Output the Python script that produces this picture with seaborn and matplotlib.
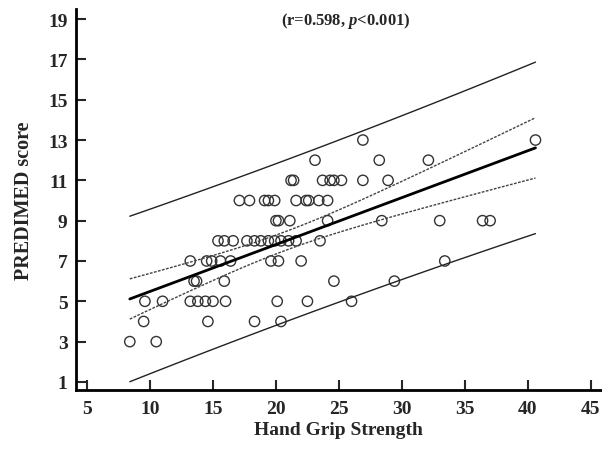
import numpy as np
import pandas as pd
import seaborn as sns
import matplotlib
matplotlib.use("Agg")
import matplotlib.pyplot as plt

# hand grip strength per PREDIMED score row
grip_13 = [26.9, 40.6]
grip_12 = [23.1, 28.2, 32.1]
grip_11 = [21.2, 21.4, 23.7, 24.3, 24.6, 25.2, 26.9, 28.9]
grip_10 = [17.1, 17.9, 19.1, 19.4, 19.9, 21.6, 22.4, 22.6, 23.4, 24.1]
grip_9 = [20.0, 20.2, 21.1, 24.1, 28.4, 33.0, 36.4, 37.0]
grip_8 = [15.4, 15.9, 16.6, 17.7, 18.3, 18.8, 19.4, 19.9, 20.4, 21.0, 21.6, 23.5]
grip_7 = [13.2, 14.5, 14.9, 15.6, 16.4, 19.6, 20.2, 22.0, 33.4]
grip_6 = [13.5, 13.7, 15.9, 24.6, 29.4]
grip_5 = [9.6, 11.0, 13.2, 13.8, 14.4, 15.0, 16.0, 20.1, 22.5, 26.0]
grip_4 = [9.5, 14.6, 18.3, 20.4]
grip_3 = [8.4, 10.5]

rows = {13: grip_13, 12: grip_12, 11: grip_11, 10: grip_10, 9: grip_9, 8: grip_8,
        7: grip_7, 6: grip_6, 5: grip_5, 4: grip_4, 3: grip_3}

df = pd.DataFrame([(g, s) for s, gs in rows.items() for g in gs], columns=["grip", "score"])

x_ticks = [5, 10, 15, 20, 25, 30, 35, 40, 45]
y_ticks = [1, 3, 5, 7, 9, 11, 13, 15, 17, 19]

sns.set_style("ticks")
plt.rcParams["font.family"] = ["Liberation Serif", "DejaVu Serif"]
plt.rcParams["font.weight"] = "bold"
plt.rcParams["mathtext.fontset"] = "custom"
plt.rcParams["mathtext.it"] = "Liberation Serif:italic:bold"
plt.rcParams["mathtext.rm"] = "Liberation Serif:bold"

fig = plt.figure(figsize=(6.02, 4.52), dpi=100)
ax = fig.add_axes([76 / 602, 61 / 452, 525 / 602, 381 / 452])

# confidence and prediction bands from a simple linear fit
x = df["grip"].values
y = df["score"].values
n = len(x)
b1, b0 = np.polyfit(x, y, 1)
resid = y - (b0 + b1 * x)
s = np.sqrt(np.sum(resid ** 2) / (n - 2))
xg = np.linspace(x.min(), x.max(), 100)
yg = b0 + b1 * xg
sxx = np.sum((x - x.mean()) ** 2)
t = 1.994
ci = t * s * np.sqrt(1 / n + (xg - x.mean()) ** 2 / sxx)
pi = t * s * np.sqrt(1 + 1 / n + (xg - x.mean()) ** 2 / sxx)

ax.plot(xg, yg + pi, color="#222222", lw=1.0)
ax.plot(xg, yg - pi, color="#222222", lw=1.0)
ax.plot(xg, yg + ci, color="#444444", lw=1.0, ls=(0, (2, 1)))
ax.plot(xg, yg - ci, color="#444444", lw=1.0, ls=(0, (2, 1)))
sns.regplot(data=df, x="grip", y="score", scatter=False, ci=None, truncate=True,
            line_kws={"color": "black", "lw": 2}, ax=ax)
sns.scatterplot(data=df, x="grip", y="score", s=55, facecolor="none",
                edgecolor="#333333", linewidth=1, ax=ax)

ax.set_xlim(4.13, 45.8)
ax.set_ylim(0.6, 19.5)
ax.set_xticks(x_ticks)
ax.set_yticks(y_ticks)
ax.tick_params(direction="in", length=7, width=1.5, labelsize=14)
ax.tick_params(axis="x", pad=7)
ax.tick_params(axis="y", pad=6)
for lab in ax.get_xticklabels() + ax.get_yticklabels():
    lab.set_fontweight("bold")
for sp in ["top", "right"]:
    ax.spines[sp].set_visible(False)
for sp in ["left", "bottom"]:
    ax.spines[sp].set_linewidth(2)
    ax.spines[sp].set_color("black")

ax.set_xlabel("Hand Grip Strength", fontsize=14, fontweight="bold", labelpad=3)
ax.set_ylabel("PREDIMED score", fontsize=14.5, fontweight="bold", labelpad=10)
ax.text(0.514, 0.971, r"(r=0.598, $p$<0.001)", transform=ax.transAxes,
        ha="center", va="center", fontsize=12, fontweight="bold")

fig.savefig("out.png", dpi=100)
